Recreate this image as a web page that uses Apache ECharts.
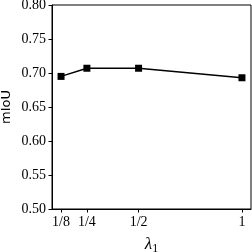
<!DOCTYPE html>
<html>
<head>
<meta charset="utf-8">
<script src="https://cdn.jsdelivr.net/npm/echarts@6/dist/echarts.min.js"></script>
<style>html,body{margin:0;padding:0;background:#fff}#c{width:252px;height:252px}</style>
</head>
<body>
<div id="c"></div>
<script>
const lambdas = [0.125, 0.25, 0.5, 1];
const xTickLabels = ['1/8', '1/4', '1/2', '1'];
const miou = [0.695, 0.707, 0.707, 0.693];
const yTicks = [0.50, 0.55, 0.60, 0.65, 0.70, 0.75, 0.80];

const chart = echarts.init(document.getElementById('c'), null, {renderer: 'canvas'});
const serif = 'Liberation Serif';
chart.setOption({
  animation: false,
  grid: {left: 52, top: 5, right: 1, bottom: 43, show: true, borderColor: '#000', borderWidth: 1, backgroundColor: 'transparent', containLabel: false, outerBoundsMode: 'none'},
  xAxis: {
    type: 'value', min: 0.08125, max: 1.04375,
    axisLine: {show: true, lineStyle: {color: '#000', width: 1}},
    axisTick: {show: true, inside: false, length: 3.5, customValues: lambdas, lineStyle: {color: '#000'}},
    axisLabel: {customValues: lambdas, color: '#000', fontFamily: serif, fontSize: 14, margin: 6,
      formatter: v => { const i = lambdas.findIndex(x => Math.abs(x - v) < 1e-9); return i >= 0 ? xTickLabels[i] : ''; }},
    splitLine: {show: false},
    name: '{l|λ}{s|1}', nameLocation: 'middle', nameGap: 26, nameMoveOverlap: false,
    nameTextStyle: {rich: {
      l: {fontFamily: serif, fontStyle: 'italic', fontSize: 17, color: '#000'},
      s: {fontFamily: serif, fontSize: 12, color: '#000', verticalAlign: 'bottom', padding: [8, 0, 0, 0]}
    }}
  },
  yAxis: {
    type: 'value', min: 0.5, max: 0.8, interval: 0.05,
    axisLine: {show: true, lineStyle: {color: '#000', width: 1}},
    axisTick: {show: true, inside: false, length: 3.5, lineStyle: {color: '#000'}},
    axisLabel: {color: '#000', fontFamily: serif, fontSize: 14, margin: 6, formatter: v => v.toFixed(2)},
    splitLine: {show: false},
    name: 'mIoU', nameLocation: 'middle', nameGap: 39, nameRotate: 90, nameMoveOverlap: false,
    nameTextStyle: {fontFamily: 'DejaVu Sans', fontSize: 13, color: '#000'}
  },
  series: [{
    type: 'line',
    data: lambdas.map((x, i) => [x, miou[i]]),
    symbol: 'rect', symbolSize: 7,
    lineStyle: {color: '#000', width: 1.5},
    itemStyle: {color: '#000'}
  }]
});
</script>
</body>
</html>
